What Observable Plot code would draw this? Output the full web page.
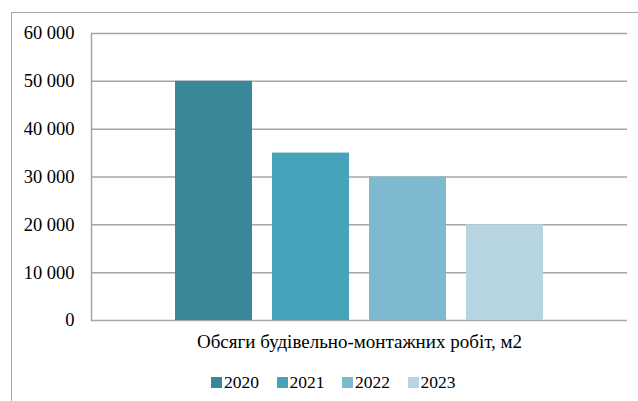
<!DOCTYPE html>
<html>
<head>
<meta charset="utf-8">
<script src="https://cdn.jsdelivr.net/npm/d3@7"></script>
<script src="https://cdn.jsdelivr.net/npm/@observablehq/plot@0.6"></script>
<style>
  body { margin: 0; width: 638px; height: 401px; overflow: hidden; background: #fff; position: relative; font-family: "Liberation Serif", serif; }
  #frame { position: absolute; left: 11px; top: 12px; width: 700px; height: 500px; border: 1px solid #a6a6a6; box-sizing: border-box; }
  #chart { position: absolute; left: 0; top: 0; }
  #chart svg text { font-family: "Liberation Serif", serif !important; }
  #legend { position: absolute; left: 211px; top: 366px; }
  #legend, #legend div, #legend span { font-family: "Liberation Serif", serif !important; font-size: 17.5px !important; color: #000 !important; }
  #legend span { margin-right: 17.5px !important; }
  #legend span svg { margin-right: 2px !important; }
</style>
</head>
<body>
<div id="frame"></div>
<div id="chart"></div>
<div id="legend"></div>
<script>
const years = ["2020", "2021", "2022", "2023"];
const values = [50000, 35000, 30000, 20000];
const colors = ["#3a8799", "#47a3ba", "#7ebacf", "#b6d5e0"];
const yTicks = [0, 10000, 20000, 30000, 40000, 50000, 60000];
const xLabel = "Обсяги будівельно-монтажних робіт, м2";

const data = years.map((y, i) => ({year: y, value: values[i]}));
const fmt = d => d3.format(",")(d).replace(/,/g, " ");

const chart = Plot.plot({
  width: 638,
  height: 362,
  marginLeft: 91,
  marginRight: 11,
  marginTop: 33,
  marginBottom: 42,
  style: {fontFamily: "'Liberation Serif', serif", fontSize: "17px", color: "#000", background: "transparent"},
  x: {domain: years, paddingInner: 0.21, paddingOuter: 0.85, axis: null},
  y: {domain: [0, 60000], axis: null},
  color: {domain: years, range: colors},
  marks: [
    Plot.gridY(yTicks, {stroke: "#a6a6a6", strokeOpacity: 1, strokeWidth: 1.5}),
    Plot.frame({anchor: "left", stroke: "#a6a6a6", strokeWidth: 1.5}),
    Plot.barY(data, {x: "year", y: "value", fill: "year"}),
    Plot.axisY(yTicks, {tickSize: 0, tickPadding: 17, tickFormat: fmt, label: null, fontSize: 18.5, fontFamily: "Liberation Serif"}),
    Plot.text([xLabel], {frameAnchor: "bottom", dy: 27, fontSize: 19, fontFamily: "Liberation Serif", fill: "#000"})
  ]
});
document.getElementById("chart").appendChild(chart);

const legend = Plot.legend({
  color: {domain: years, range: colors, type: "ordinal"},
  swatchSize: 11
});
document.getElementById("legend").appendChild(legend);
</script>
</body>
</html>
